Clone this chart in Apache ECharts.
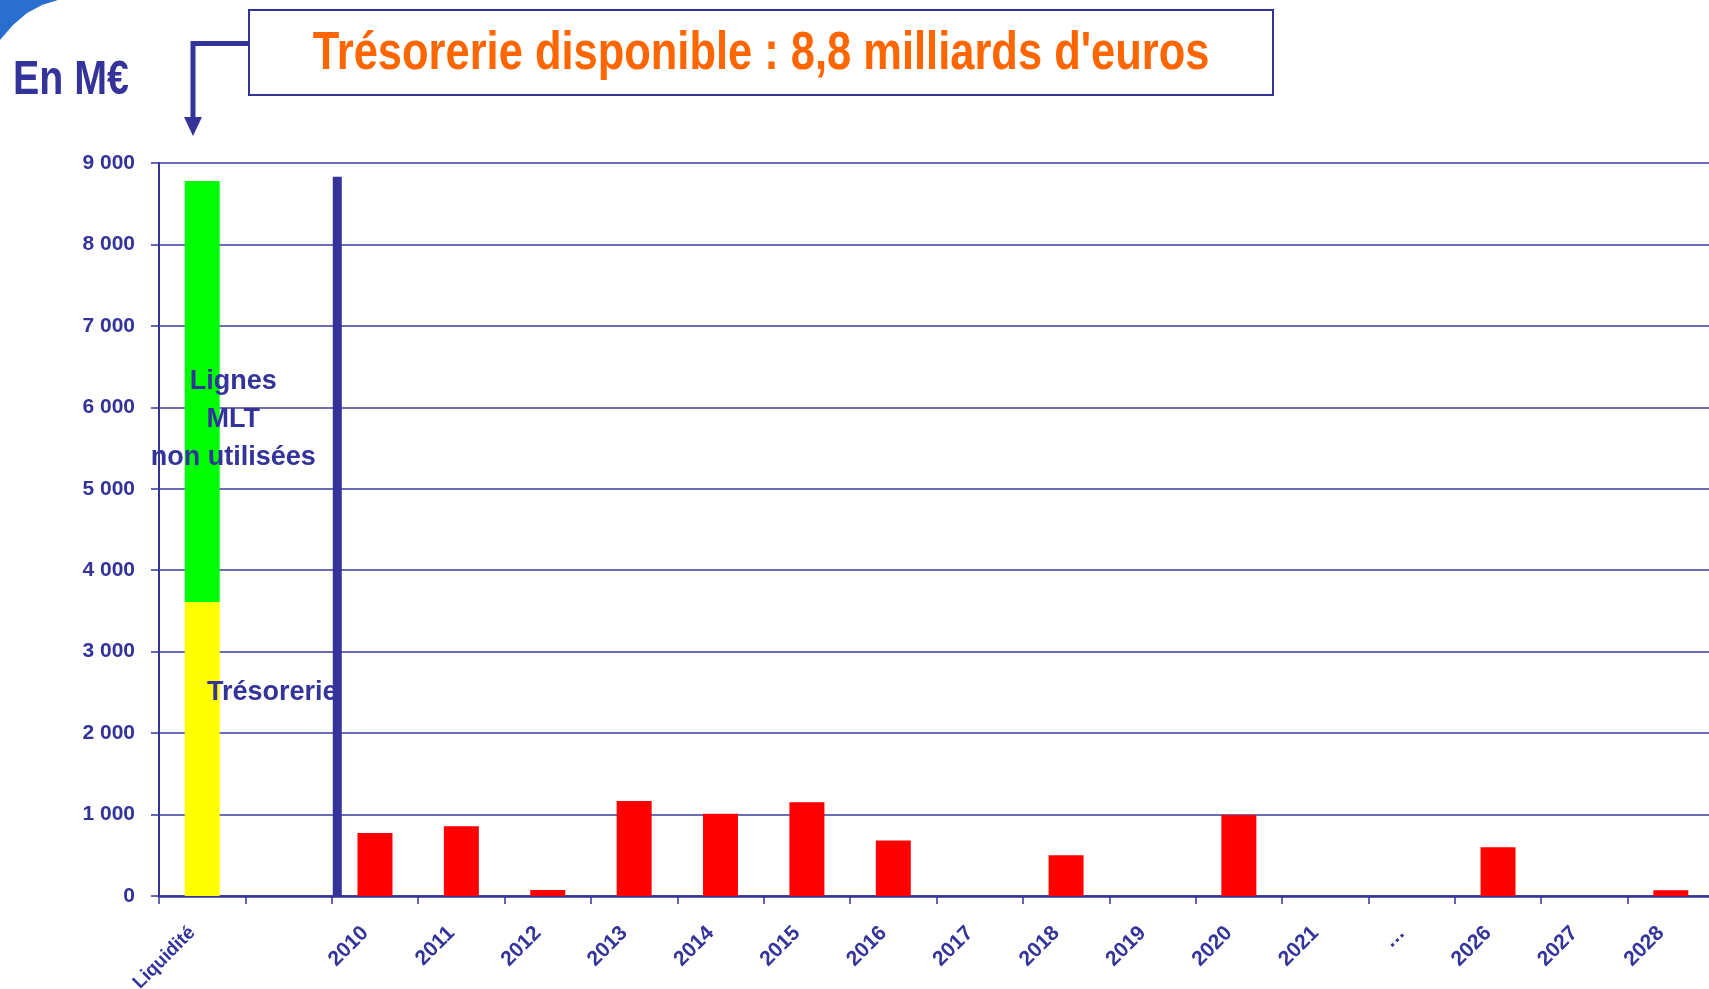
<!DOCTYPE html>
<html lang="fr">
<head>
<meta charset="utf-8">
<title>Trésorerie disponible</title>
<script src="https://cdn.jsdelivr.net/npm/echarts@6/dist/echarts.min.js"></script>
<style>
  html, body { margin: 0; padding: 0; background: #fff; }
  #chart { width: 1709px; height: 989px; }
</style>
</head>
<body>
<div id="chart"></div>
<script>
// x axis: liquidity column, an empty gap, then the yearly maturities
const categories = ['Liquidité', '', '2010', '2011', '2012', '2013', '2014', '2015', '2016', '2017',
  '2018', '2019', '2020', '2021', '…', '2026', '2027', '2028']

// en M€
const tresorerie = [3610, 0, 0, 0, 0, 0, 0, 0, 0, 0, 0, 0, 0, 0, 0, 0, 0, 0]
const lignesMLT = [5170, 0, 0, 0, 0, 0, 0, 0, 0, 0, 0, 0, 0, 0, 0, 0, 0, 0]
const echeances = [0, 0, 775, 855, 75, 1165, 1010, 1150, 680, 0, 500, 0, 995, 0, 0, 600, 0, 70]

// vertical separator drawn after the empty column
const separator = [[1, 8830]]

const yMin = 0
const yMax = 9000
const yStep = 1000

const titleText = 'Trésorerie disponible : 8,8 milliards d\'euros'
const unitText = 'En M€'
const lignesLabel = 'Lignes\nMLT\nnon utilisées'
const tresoLabel = 'Trésorerie'

const NAVY = '#333399'
const FONT = '"Liberation Sans", Arial, sans-serif'
// no narrow face available, so the big texts are squeezed horizontally
const NARROW = 0.82

const chart = echarts.init(document.getElementById('chart'))

function frNumber(v) {
  return String(v).replace(/\B(?=(\d{3})+(?!\d))/g, ' ')
}

// the long first label is set a bit smaller so it stays on the page
const xData = categories.map((c, i) => (i === 0 ? { value: c, textStyle: { fontSize: 19 } } : c))

chart.setOption({
  animation: false,
  backgroundColor: '#fff',
  grid: { left: 159, right: -5, top: 163, bottom: 93, containLabel: false, outerBoundsMode: 'none' },
  xAxis: {
    type: 'category',
    data: xData,
    boundaryGap: true,
    axisLine: { lineStyle: { color: NAVY, width: 2.5 } },
    axisTick: { show: true, length: 8, lineStyle: { color: NAVY, width: 1.5 } },
    axisLabel: {
      interval: 0,
      rotate: 45,
      margin: 24,
      color: NAVY,
      fontFamily: FONT,
      fontWeight: 'bold',
      fontSize: 21,
      padding: [0, 14, 18, 0]
    },
    splitLine: { show: false }
  },
  yAxis: {
    type: 'value',
    min: yMin,
    max: yMax,
    interval: yStep,
    axisLine: { show: true, lineStyle: { color: NAVY, width: 2 } },
    axisTick: { show: true, length: 8, lineStyle: { color: NAVY, width: 1.5 } },
    axisLabel: {
      margin: 24,
      color: NAVY,
      fontFamily: FONT,
      fontWeight: 'bold',
      fontSize: 21,
      formatter: frNumber
    },
    splitLine: { lineStyle: { color: '#3d3d9e', width: 1.5 } }
  },
  series: [
    {
      name: 'Trésorerie',
      type: 'bar',
      stack: 'total',
      barWidth: 35,
      data: tresorerie,
      itemStyle: { color: '#ffff00' },
      label: {
        show: true,
        position: 'inside',
        offset: [70, -56],
        color: NAVY,
        fontFamily: FONT,
        fontWeight: 'bold',
        fontSize: 27,
        formatter: (p) => (p.dataIndex === 0 ? tresoLabel : '')
      }
    },
    {
      name: 'Lignes MLT non utilisées',
      type: 'bar',
      stack: 'total',
      barWidth: 35,
      data: lignesMLT,
      itemStyle: { color: '#00ff00' },
      label: {
        show: true,
        position: 'inside',
        offset: [31, 28],
        color: NAVY,
        fontFamily: FONT,
        fontWeight: 'bold',
        fontSize: 27,
        lineHeight: 38,
        align: 'center',
        formatter: (p) => (p.dataIndex === 0 ? lignesLabel : '')
      }
    },
    {
      name: 'Échéances',
      type: 'bar',
      stack: 'total',
      barWidth: 35,
      data: echeances,
      itemStyle: { color: '#ff0000' }
    },
    {
      name: 'séparateur',
      type: 'custom',
      data: separator,
      z: 5,
      renderItem: (params, api) => {
        const top = api.coord([api.value(0), api.value(1)])
        const base = api.coord([api.value(0), 0])
        const band = api.size([1, 0])[0]
        return {
          type: 'rect',
          shape: { x: top[0] + band / 2 + 1, y: top[1], width: 9, height: base[1] - top[1] },
          style: { fill: NAVY }
        }
      }
    }
  ],
  graphic: [
    {
      type: 'polygon',
      shape: { points: [[0, 0], [58, 0], [42, 5], [27, 13], [13, 25], [0, 40]] },
      style: { fill: '#2a6fd0' }
    },
    {
      type: 'rect',
      shape: { x: 249, y: 10, width: 1024, height: 85 },
      style: { fill: '#fff', stroke: NAVY, lineWidth: 2 }
    },
    {
      type: 'text',
      x: 761,
      y: 54,
      scaleX: NARROW,
      style: {
        text: titleText,
        fill: '#ff6600',
        fontFamily: FONT,
        fontWeight: 'bold',
        fontSize: 53,
        textAlign: 'center',
        textVerticalAlign: 'middle'
      }
    },
    {
      type: 'polyline',
      shape: { points: [[249, 43.5], [193, 43.5], [193, 120]] },
      style: { stroke: NAVY, lineWidth: 5, fill: null }
    },
    {
      type: 'polygon',
      shape: { points: [[184, 117], [202, 117], [193, 136]] },
      style: { fill: NAVY }
    },
    {
      type: 'text',
      x: 13,
      y: 81,
      scaleX: NARROW,
      style: {
        text: unitText,
        fill: NAVY,
        fontFamily: FONT,
        fontWeight: 'bold',
        fontSize: 48,
        textAlign: 'left',
        textVerticalAlign: 'middle'
      }
    }
  ]
})
</script>
</body>
</html>
